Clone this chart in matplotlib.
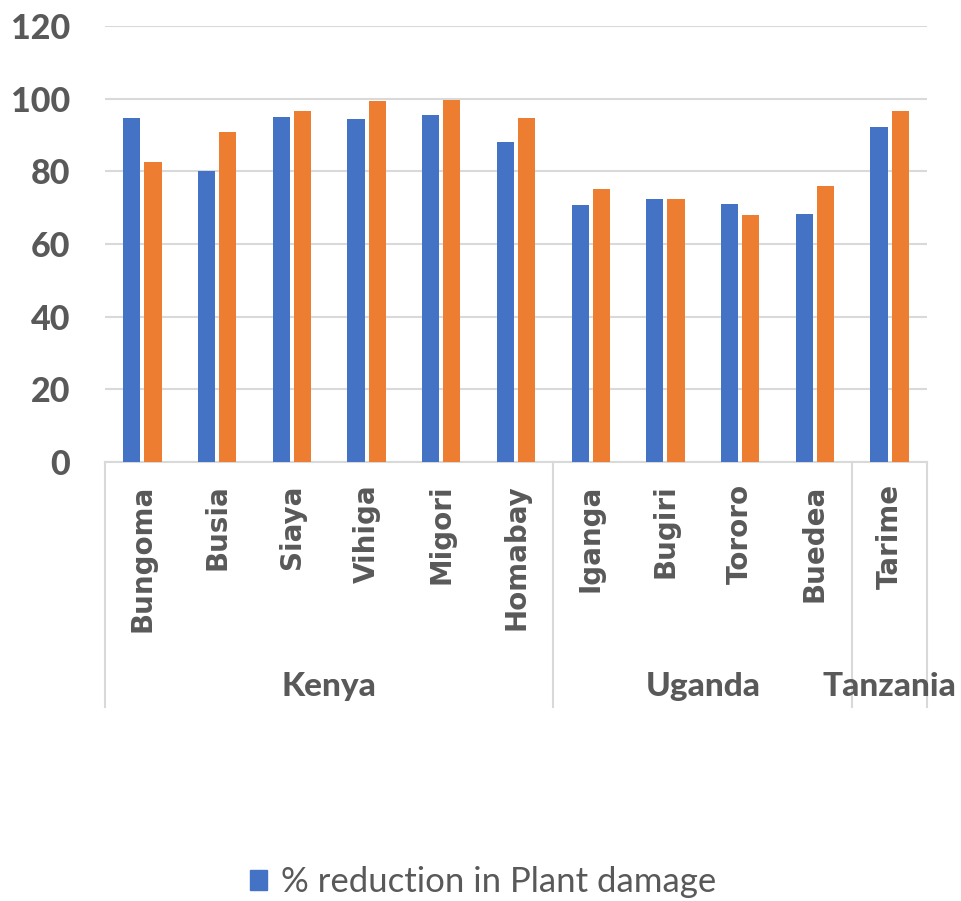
import matplotlib.pyplot as plt
import numpy as np
from matplotlib.patches import Patch

districts = ["Bungoma", "Busia", "Siaya", "Vihiga", "Migori", "Homabay",
             "Iganga", "Bugiri", "Tororo", "Buedea", "Tarime"]
countries = ["Kenya", "Uganda", "Tanzania"]
country_sizes = [6, 4, 1]

plant_damage = [94.6, 80.2, 95.0, 94.4, 95.6, 88.1, 70.8, 72.5, 71.1, 68.3, 92.3]
second_series = [82.7, 90.7, 96.5, 99.3, 99.6, 94.6, 75.1, 72.3, 68.0, 76.1, 96.6]

BLUE = "#4472C4"
ORANGE = "#ED7D31"
GRAY = "#595959"
LINE = "#D9D9D9"


def main() -> None:
    fig = plt.figure(figsize=(9.61, 9.01), dpi=100)
    ax = fig.add_axes([0.1093, 0.4872, 0.8553, 0.4839])

    x = np.arange(len(districts))
    width = 0.23
    offset = 0.142
    ax.bar(x - offset, plant_damage, width, color=BLUE, zorder=3)
    ax.bar(x + offset, second_series, width, color=ORANGE, zorder=3)

    ax.set_xlim(-0.5, len(districts) - 0.5)
    ax.set_ylim(0, 120)
    ax.set_yticks(range(0, 121, 20))
    ax.yaxis.grid(True, color=LINE, linewidth=1.5, zorder=0)

    for side in ["left", "right", "top"]:
        ax.spines[side].set_visible(False)
    ax.spines["bottom"].set_color(LINE)
    ax.spines["bottom"].set_linewidth(1.5)

    ax.tick_params(axis="y", length=0, pad=25, labelsize=24.5, labelcolor=GRAY)
    for label in ax.get_yticklabels():
        label.set_fontfamily("Lato")
        label.set_fontweight("black")

    ax.set_xticks(x)
    ax.set_xticklabels(districts, rotation=90, va="top", ha="center",
                       fontsize=20, fontweight="bold", color=GRAY,
                       family="DejaVu Sans")
    ax.tick_params(axis="x", length=0, pad=16)

    # group separators and country names under the district labels
    trans = ax.get_xaxis_transform()
    bounds = np.concatenate([[0], np.cumsum(country_sizes)]) - 0.5
    for b in bounds:
        ax.plot([b, b], [0, -0.562], transform=trans, color=LINE,
                linewidth=1.5, clip_on=False)
    for name, lo, hi in zip(countries, bounds[:-1], bounds[1:]):
        ax.text((lo + hi) / 2, -0.514, name, transform=trans, ha="center",
                va="center", fontsize=24, fontweight="black", color=GRAY,
                family="Lato")

    fig.legend(handles=[Patch(color=BLUE, label="% reduction in Plant damage")],
               loc="center", bbox_to_anchor=(0.503, 0.021), frameon=False,
               prop={"family": "Lato", "size": 25}, labelcolor=GRAY,
               handlelength=0.5, handleheight=0.5, handletextpad=0.4)

    fig.savefig("out.png", dpi=100)


if __name__ == "__main__":
    main()
